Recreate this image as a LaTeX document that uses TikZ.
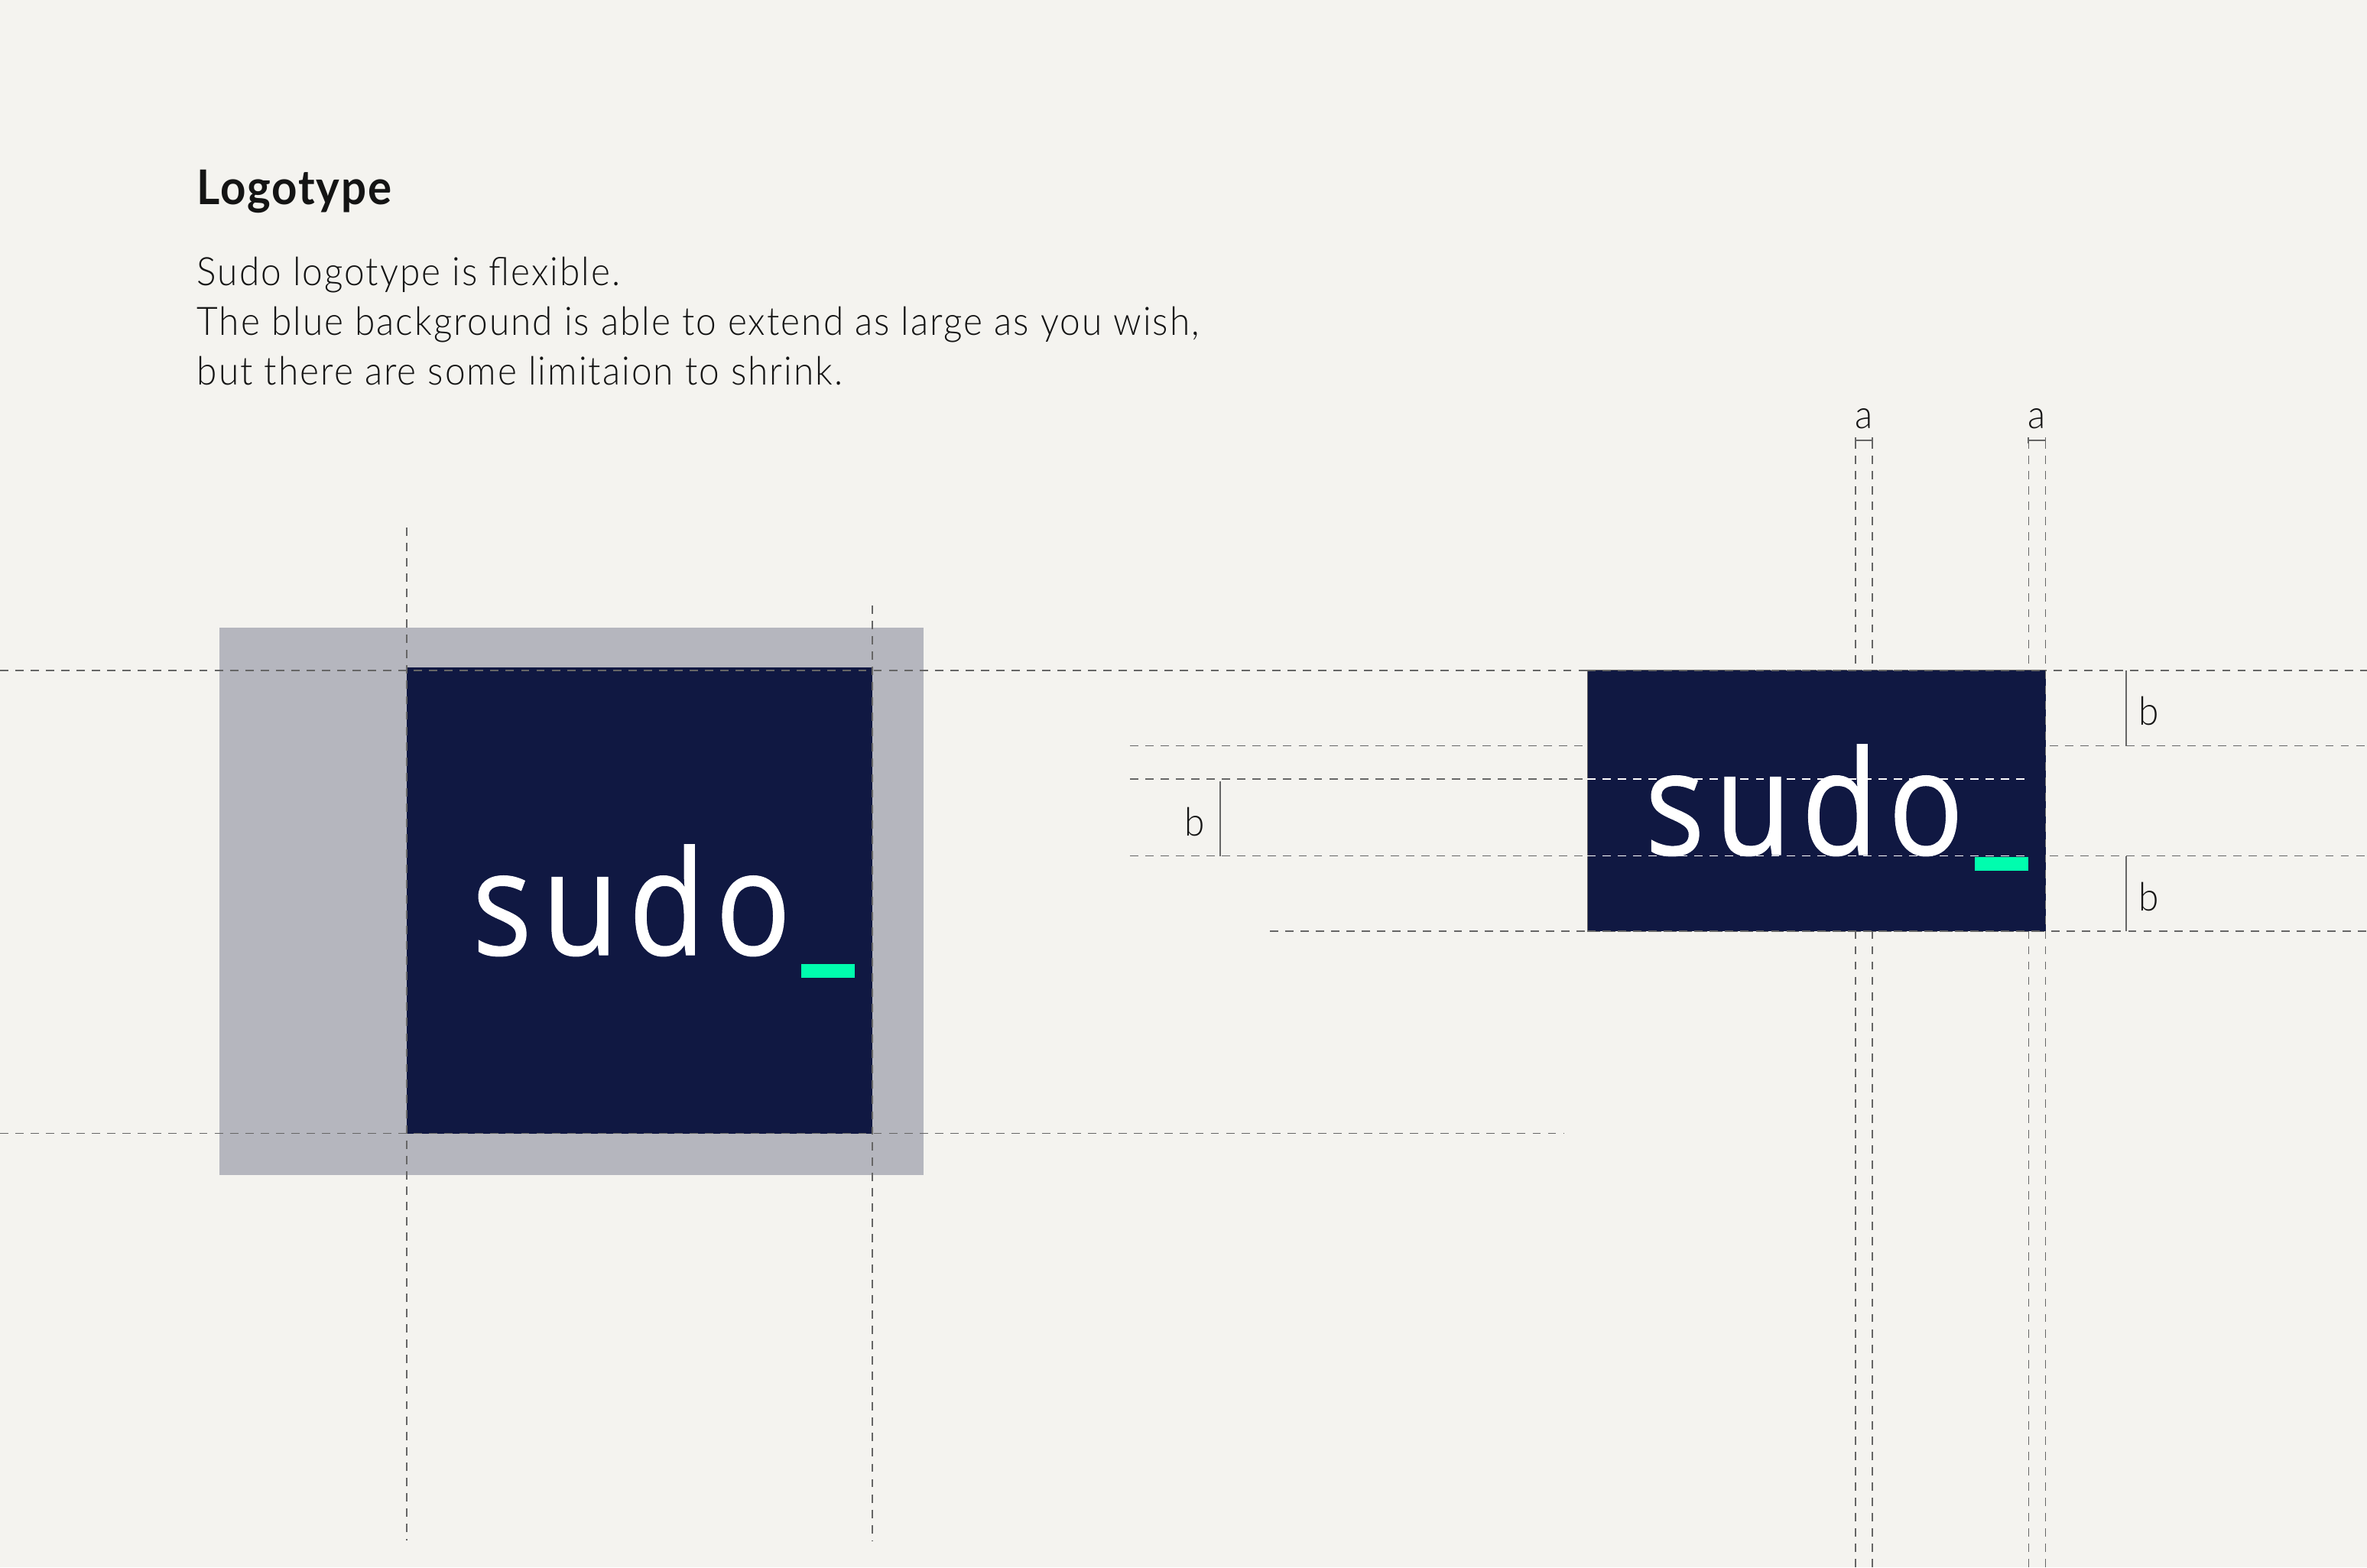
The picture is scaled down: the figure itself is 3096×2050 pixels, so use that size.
\documentclass[tikz,border=0pt]{standalone}
\usepackage{fontspec}
\setmainfont{Lato}
\newfontfamily\bodyfont[FakeStretch=0.93,LetterSpace=4]{Lato Light}
\newfontfamily\titlefont[FakeStretch=0.93,LetterSpace=3]{Lato}
\newfontfamily\logofont[FakeStretch=0.86,LetterSpace=7,FakeBold=0.6]{Open Sans}
\definecolor{paper}{HTML}{F4F3EF}
\definecolor{navy}{HTML}{101842}
\definecolor{veil}{HTML}{B5B6BE}
\definecolor{mint}{HTML}{00FDAE}
\definecolor{rulegray}{HTML}{666666}
\definecolor{ink}{HTML}{141414}
\tikzset{
  guide/.style={draw=rulegray,line width=0.3pt,dash pattern=on 3.1pt off 2.6pt},
  guidebold/.style={draw=rulegray,line width=0.55pt,dash pattern=on 3.1pt off 2.6pt},
  guidewhite/.style={draw=white,line width=0.35pt,dash pattern=on 3.1pt off 2.6pt},
  measure/.style={draw=rulegray,line width=0.55pt},
  label/.style={anchor=base,inner sep=0pt,text=ink,font=\bodyfont\fontsize{14.6}{16}\selectfont},
  bodyline/.style={anchor=base west,inner sep=0pt,text=ink,font=\bodyfont\fontsize{14.6}{16}\selectfont},
  logotext/.style={anchor=base west,inner sep=0pt,text=white,font=\logofont\fontsize{54}{60}\selectfont},
}
\begin{document}
\begin{tikzpicture}[x=0.01cm,y=-0.01cm]
\fill[paper] (0,0) rectangle (3096,2050);
\useasboundingbox (0,0) rectangle (3096,2050);
% text
\node[anchor=base west,inner sep=0pt,text=ink,font=\titlefont\bfseries\fontsize{17.8}{20}\selectfont] (title) at (257,267) {Logotype};
\node[bodyline] (l1) at (257,373) {Sudo logotype is flexible.};
\node[bodyline] (l2) at (257,438) {The blue background is able to extend as large as you wish,};
\node[bodyline] (l3) at (257,503) {but there are some limitaion to shrink.};
% left mark
\fill[veil] (287,821) rectangle (1208,1537);
\fill[navy] (532,873) rectangle (1141,1483);
\draw[guide] (0,877) -- (3096,877);
\draw[guide] (0,1482.5) -- (2045,1482.5);
\draw[guide] (532,690) -- (532,2015);
\draw[guide] (1141,792) -- (1141,2015);
\node[logotext] (logoL) at (617,1249) {sudo};
\fill[mint] (1048,1261) rectangle (1118,1279);
% right guides behind
\foreach \gx in {2427,2449,2653,2675.5} \draw[guide] (\gx,576) -- (\gx,2050);
\draw[guidebold] (1478,975.5) -- (3096,975.5);
\draw[guide] (1478,1019) -- (2076,1019);
\draw[guidebold] (1478,1119.5) -- (3096,1119.5);
\draw[guide] (1661,1218) -- (3096,1218);
% right mark
\fill[navy] (2076,877) rectangle (2675.5,1218);
\draw[rulegray,line width=0.25pt] (2076,877) -- (2076,1218);
\draw[guide] (2675.5,877) -- (2675.5,1218);
\draw[guide] (2076,877) -- (2675.5,877);
\draw[guide] (2076,1218) -- (2675.5,1218);
\node[logotext] (logoR) at (2151,1118) {sudo};
\fill[mint] (2583,1121) rectangle (2653,1139);
\draw[guidewhite] (2076,1019) -- (2653,1019);
\draw[guidewhite] (2076,1119.5) -- (2653,1119.5);
% measures
\draw[measure] (2427,576) -- (2449,576);
\draw[measure] (2653,576) -- (2675.5,576);
\draw[measure] (2427,572) -- (2427,580);
\draw[measure] (2449,572) -- (2449,580);
\draw[measure] (2653,572) -- (2653,580);
\draw[measure] (2675.5,572) -- (2675.5,580);
\draw[measure] (1596,1022) -- (1596,1119.5);
\draw[measure] (2781,877) -- (2781,975.5);
\draw[measure] (2781,1119.5) -- (2781,1218);
\node[label] (a1) at (2438,560) {a};
\node[label] (a2) at (2664,560) {a};
\node[label] (b1) at (1563,1093) {b};
\node[label] (b2) at (2811,948) {b};
\node[label] (b3) at (2811,1191) {b};
\end{tikzpicture}
\end{document}
